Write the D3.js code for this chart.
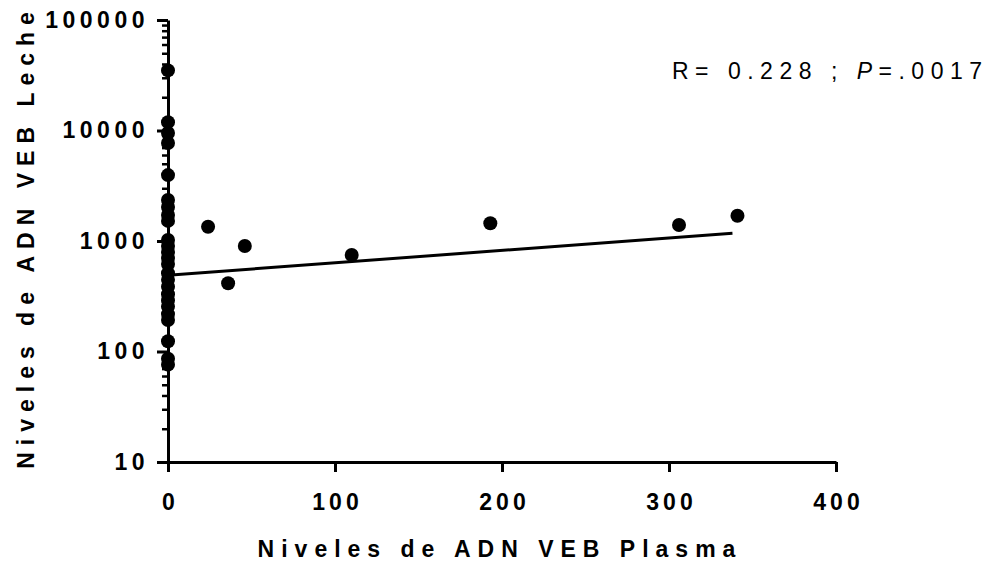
<!DOCTYPE html>
<html>
<head>
<meta charset="utf-8">
<script src="https://d3js.org/d3.v7.min.js"></script>
<style>
  body { margin: 0; background: #fff; }
  svg { display: block; }
  text { font-family: "Liberation Sans", Arial, sans-serif; }
</style>
</head>
<body>
<svg width="992" height="564"></svg>
<script>
// EBV DNA levels: plasma (x) vs milk (y)
const plasma = [0, 0, 0, 0, 0, 0, 0, 0, 0, 0, 0, 0, 0, 0, 0, 0, 0, 0, 0, 0, 0, 0, 0, 0, 0,
                24, 36, 46, 110, 193, 306, 341];
const milk = [35000, 11900, 9500, 7700, 3950, 2350, 2030, 1720, 1520, 1020, 900, 795, 700, 620,
              510, 445, 385, 330, 290, 255, 218, 193, 124, 86, 76,
              1346, 414, 901, 747, 1446, 1396, 1694];
const xTicks = [0, 100, 200, 300, 400];
const yTicks = [10, 100, 1000, 10000, 100000];
// fitted line end points
const fitX = [0, 338];
const fitY = [490, 1174];

const margin = {left: 168, top: 20};
const width = 668, height = 442;

const svg = d3.select("svg");
const g = svg.append("g").attr("transform", `translate(${margin.left},${margin.top})`);

const x = d3.scaleLinear().domain([0, 400]).range([0, width]);
const y = d3.scaleLog().domain([10, 100000]).range([height, 0]);

// minor y ticks
const minor = y.ticks().filter(d => !yTicks.includes(d));
const yMinor = g.append("g")
  .call(d3.axisLeft(y).tickValues(minor).tickSize(6).tickSizeOuter(0).tickFormat(""));
yMinor.select(".domain").remove();
yMinor.selectAll("line").attr("stroke-width", 2.5);

// major y axis
const yAxis = g.append("g")
  .call(d3.axisLeft(y).tickValues(yTicks).tickSize(11).tickSizeOuter(0).tickPadding(8)
    .tickFormat(d3.format("d")));
yAxis.select(".domain").attr("stroke-width", 3);
yAxis.selectAll("line").attr("stroke-width", 3);
yAxis.selectAll("text")
  .style("font-family", "'Liberation Sans', Arial, sans-serif")
  .style("font-size", "23px").style("font-weight", "bold")
  .style("letter-spacing", "4.5px").attr("fill", "#000");

// x axis
const xAxis = g.append("g").attr("transform", `translate(0,${height})`)
  .call(d3.axisBottom(x).tickValues(xTicks).tickSize(10).tickSizeOuter(0).tickPadding(22));
xAxis.select(".domain").attr("stroke-width", 3);
xAxis.selectAll("line").attr("stroke-width", 3);
xAxis.selectAll("text")
  .style("font-family", "'Liberation Sans', Arial, sans-serif")
  .style("font-size", "23px").style("font-weight", "bold")
  .style("letter-spacing", "4px").attr("dx", "2px").attr("fill", "#000");

// regression line
g.append("path")
  .datum(fitX.map((d, i) => [d, fitY[i]]))
  .attr("fill", "none").attr("stroke", "#000").attr("stroke-width", 3)
  .attr("d", d3.line().x(d => x(d[0])).y(d => y(d[1])));

// points
g.selectAll("circle.pt")
  .data(plasma.map((d, i) => ({px: d, mk: milk[i]})))
  .enter().append("circle")
  .attr("class", "pt")
  .attr("cx", d => x(d.px))
  .attr("cy", d => y(d.mk))
  .attr("r", 7)
  .attr("fill", "#000");

// axis titles
svg.append("text")
  .attr("x", 500).attr("y", 557)
  .attr("text-anchor", "middle")
  .style("font-size", "23px").style("font-weight", "bold").style("letter-spacing", "7px")
  .text("Niveles de ADN VEB Plasma");

svg.append("text")
  .attr("transform", "translate(34,237) rotate(-90)")
  .attr("text-anchor", "middle")
  .style("font-size", "23px").style("font-weight", "bold").style("letter-spacing", "7px")
  .text("Niveles de ADN VEB Leche");

// stats annotation
const stat = svg.append("text")
  .attr("x", 672).attr("y", 79)
  .style("font-size", "23px").style("letter-spacing", "6.5px");
stat.append("tspan").text("R= 0.228 ; ");
stat.append("tspan").style("font-style", "italic").text("P");
stat.append("tspan").text("=.0017");
</script>
</body>
</html>
